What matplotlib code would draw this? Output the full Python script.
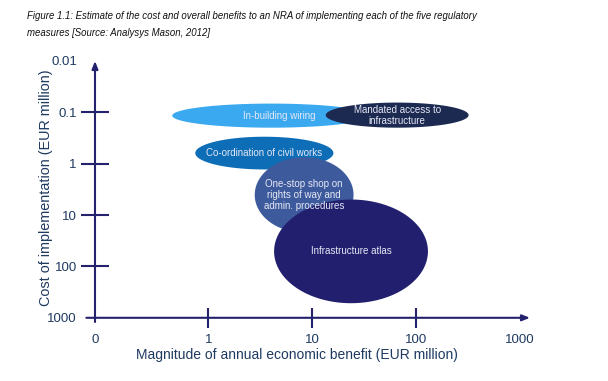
import numpy as np
import matplotlib
matplotlib.use("Agg")
import matplotlib.pyplot as plt

plt.rcParams['font.family'] = ['Liberation Sans', 'DejaVu Sans']

# ---- data ----
measures = ["In-building wiring", "Mandated access to\ninfrastructure",
            "Co-ordination of civil works",
            "One-stop shop on\nrights of way and\nadmin. procedures",
            "Infrastructure atlas"]
benefit_low = [0.45, 13.5, 0.75, 2.8, 4.3]      # EUR million
benefit_high = [36, 320, 16, 25, 130]
cost_low = [0.068, 0.065, 0.30, 0.75, 5.0]      # EUR million
cost_high = [0.20, 0.20, 1.3, 22, 520]
colors = ["#3BA9F0", "#1C2A52", "#0E6DB7", "#3D5B9C", "#22206E"]

x_ticks = [1, 10, 100, 1000]
x_ticklabels = ["1", "10", "100", "1000"]
y_ticks = [0.01, 0.1, 1, 10, 100, 1000]
y_ticklabels = ["0.01", "0.1", "1", "10", "100", "1000"]
x_zero = 10 ** -1.09   # where the "0" origin is drawn on the log axis

title = ("Figure 1.1: Estimate of the cost and overall benefits to an NRA of implementing each of the five regulatory\n"
         "measures [Source: Analysys Mason, 2012]")
xlabel = "Magnitude of annual economic benefit (EUR million)"
ylabel = "Cost of implementation (EUR million)"

# ---- figure ----
W, H = 608, 381
fig = plt.figure(figsize=(W / 100, H / 100), dpi=100)
ax = fig.add_axes([95 / W, 1 - 320 / H, 440 / W, 260 / H])
ax.set_xscale('log')
ax.set_yscale('log')
ax.set_xlim(10 ** ((95 - 208) / 104), 10 ** ((535 - 208) / 104))
ax.set_ylim(10 ** ((320 - 163.6) / 51.4), 10 ** ((60 - 163.6) / 51.4))
for s in ax.spines.values():
    s.set_visible(False)
ax.spines['left'].set_position(('data', x_zero))
ax.spines['bottom'].set_position(('data', 1000))

axis_col = "#24216F"
text_col = "#1F3A60"

# ellipses in log space
t = np.linspace(0, 2 * np.pi, 300)
for i, name in enumerate(measures):
    lx0, lx1 = np.log10(benefit_low[i]), np.log10(benefit_high[i])
    ly0, ly1 = np.log10(cost_low[i]), np.log10(cost_high[i])
    cx, cy = (lx0 + lx1) / 2, (ly0 + ly1) / 2
    a, b = (lx1 - lx0) / 2, (ly1 - ly0) / 2
    ax.fill(10 ** (cx + a * np.cos(t)), 10 ** (cy + b * np.sin(t)),
            color=colors[i], lw=0, zorder=2 + i)
    tx = cx + (0.08 if i == 0 else 0.0)
    ax.text(10 ** tx, 10 ** cy, name, ha='center', va='center',
            color='#E6E8F5', fontsize=7, zorder=10 + i, linespacing=1.15)

# axis lines with arrows
ax.annotate("", xy=(10 ** ((530 - 208) / 104), 1000),
            xytext=(10 ** ((86 - 208) / 104), 1000),
            arrowprops=dict(arrowstyle='-|>,head_length=0.45,head_width=0.18',
                            color=axis_col, lw=1.5, shrinkA=0, shrinkB=0),
            zorder=20, annotation_clip=False)
ax.annotate("", xy=(x_zero, 10 ** ((61 - 163.6) / 51.4)),
            xytext=(x_zero, 10 ** ((322 - 163.6) / 51.4)),
            arrowprops=dict(arrowstyle='-|>,head_length=0.45,head_width=0.18',
                            color=axis_col, lw=1.5, shrinkA=0, shrinkB=0),
            zorder=20, annotation_clip=False)

# ticks
ax.set_xticks([x_zero] + x_ticks)
ax.set_xticklabels(["0"] + x_ticklabels)
ax.set_yticks(y_ticks)
ax.set_yticklabels(y_ticklabels)
ax.xaxis.set_minor_locator(matplotlib.ticker.NullLocator())
ax.yaxis.set_minor_locator(matplotlib.ticker.NullLocator())
ax.tick_params(axis='x', direction='inout', length=14, width=1.5, color=axis_col,
               labelsize=9.5, labelcolor=text_col, pad=5)
ax.tick_params(axis='y', direction='inout', length=20, width=1.5, color=axis_col,
               labelsize=9.5, labelcolor=text_col, pad=3)
xt = ax.xaxis.get_major_ticks()
xt[0].tick1line.set_visible(False)
xt[-1].tick1line.set_visible(False)
yt = ax.yaxis.get_major_ticks()
yt[0].tick1line.set_visible(False)
yt[-1].tick1line.set_visible(False)
for tk in xt + yt:
    tk.tick1line.set_zorder(20)

ax.set_xlabel(xlabel, fontsize=10, color=text_col)
ax.set_ylabel(ylabel, fontsize=10.4, color=text_col)
ax.xaxis.set_label_coords(297 / W, 1 - 355 / H, transform=fig.transFigure)
ax.yaxis.set_label_coords(46 / W, 1 - 188 / H, transform=fig.transFigure)
ax.xaxis.label.set_va('center')
ax.yaxis.label.set_va('center')

fig.text(27 / W, 1 - 11 / H, title, ha='left', va='top', fontsize=6.9,
         style='italic', color='#111111', linespacing=1.85)

fig.savefig("out.png", dpi=100)
